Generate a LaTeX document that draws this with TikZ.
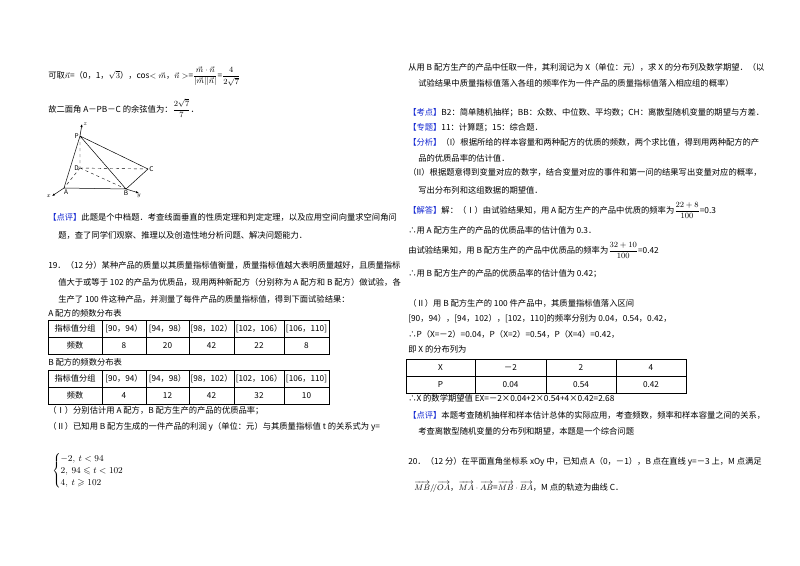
\documentclass[tikz,border=0pt]{standalone}
\usepackage{amsmath,amssymb}
\usepackage{fontspec}
\setmainfont{Noto Sans CJK SC}
\usetikzlibrary{arrows.meta}
\definecolor{lblue}{RGB}{20,40,210}
\tikzset{tx/.style={anchor=base west,inner sep=0pt,font=\fontsize{8.3}{10}\selectfont},
 cell/.style={inner sep=0pt,font=\fontsize{8.2}{10}\selectfont},
 fig/.style={inner sep=1pt,font=\fontsize{6.5}{7}\selectfont},
 dsh/.style={dashed,line width=0.4pt}}
\newcommand{\lb}[1]{\textcolor{lblue}{【#1】}}
\begin{document}
\begin{tikzpicture}[x=1pt,y=-1pt,line width=0.5pt]
\useasboundingbox[fill=white] (0,0) rectangle (800,565);
% left column
\node[tx] (l1) at (48,78) {可取$\vec{n}$=（0，1，$\sqrt3$），cos$<\vec{m}$，$\vec{n}>$=$\dfrac{\vec{m}\cdot\vec{n}}{|\vec{m}||\vec{n}|}$=$\dfrac{4}{2\sqrt7}$};
\node[tx] (l2) at (48,112) {故二面角 A－PB－C 的余弦值为：$\dfrac{2\sqrt7}{7}$．};
% figure
\coordinate (P) at (80,136); \coordinate (D) at (80,168); \coordinate (C) at (148,169);
\coordinate (A) at (64,188); \coordinate (B) at (126,189);
\coordinate (zt) at (82,124); \coordinate (xe) at (52,196); \coordinate (ye) at (139,193);
\draw[-{Latex[length=3pt]}] (P) -- (zt);
\draw (P)--(A) (P)--(B) (P)--(C) (A)--(B) (B)--(C);
\draw[dsh] (P)--(D) (D)--(C) (D)--(A) (D)--(B);
\draw[-{Latex[length=3pt]}] (A) -- (xe);
\draw[-{Latex[length=3pt]}] (B) -- (ye);
\node[fig,anchor=west] (nz) at (zt) {$z$};
\node[fig,anchor=east] (nP) at (P) {P};
\node[fig,anchor=east] (nD) at (D) {D};
\node[fig,anchor=west] (nC) at (C) {C};
\node[fig,anchor=north] (nA) at ([xshift=2]A) {A};
\node[fig,anchor=north] (nB) at (B) {B};
\node[fig,anchor=east] (nx) at (xe) {$x$};
\node[fig,anchor=north] (ny) at (ye) {$y$};
\node[tx] (l3) at (48,220) {\lb{点评}此题是个中档题．考查线面垂直的性质定理和判定定理，以及应用空间向量求空间角问};
\node[tx] (l4) at (58,238) {题，查了同学们观察、推理以及创造性地分析问题、解决问题能力．};
\node[tx] (l5) at (48,268) {19．（12 分）某种产品的质量以其质量指标值衡量，质量指标值越大表明质量越好，且质量指标};
\node[tx] (l6) at (58,285) {值大于或等于 102 的产品为优质品，现用两种新配方（分别称为 A 配方和 B 配方）做试验，各};
\node[tx] (l7) at (58,302) {生产了 100 件这种产品，并测量了每件产品的质量指标值，得到下面试验结果：};
\node[tx] (l8) at (48,316) {A 配方的频数分布表};
\node[tx] (l9) at (48,365) {B 配方的频数分布表};
% tables A and B
\foreach \t/\yt/\va/\vb/\vc/\vd/\ve in {A/320/8/20/42/22/8, B/370/4/12/42/32/10}{
 \draw (48,\yt) rectangle (329,\yt+34);
 \draw (48,\yt+17) -- (329,\yt+17);
 \foreach \xx in {102,146,189,234,284} \draw (\xx,\yt) -- (\xx,\yt+34);
 \node[cell] (\t h0) at (75,\yt+8.5) {指标值分组};
 \node[cell] (\t h1) at (124,\yt+8.5) {[90，94）};
 \node[cell] (\t h2) at (167.5,\yt+8.5) {[94，98）};
 \node[cell] (\t h3) at (211.5,\yt+8.5) {[98，102）};
 \node[cell] (\t h4) at (259,\yt+8.5) {[102，106）};
 \node[cell] (\t h5) at (306.5,\yt+8.5) {[106，110]};
 \node[cell] (\t v0) at (75,\yt+25.5) {频数};
 \node[cell] (\t v1) at (124,\yt+25.5) {\va};
 \node[cell] (\t v2) at (167.5,\yt+25.5) {\vb};
 \node[cell] (\t v3) at (211.5,\yt+25.5) {\vc};
 \node[cell] (\t v4) at (259,\yt+25.5) {\vd};
 \node[cell] (\t v5) at (306.5,\yt+25.5) {\ve};
}
\node[tx] (l10) at (48,413) {（Ⅰ）分别估计用 A 配方，B 配方生产的产品的优质品率；};
\node[tx] (l11) at (48,429) {（Ⅱ）已知用 B 配方生成的一件产品的利润 y（单位：元）与其质量指标值 t 的关系式为 y=};
\node[anchor=west,inner sep=0pt,font=\fontsize{9.5}{11}\selectfont] (pw) at (52,471) {$\begin{cases}-2,\ t<94\\[-1pt] 2,\ 94\leqslant t<102\\[-1pt] 4,\ t\geqslant102\end{cases}$};
% right column
\node[tx] (r1) at (408,70) {从用 B 配方生产的产品中任取一件，其利润记为 X（单位：元），求 X 的分布列及数学期望．（以};
\node[tx] (r2) at (418,86) {试验结果中质量指标值落入各组的频率作为一件产品的质量指标值落入相应组的概率）};
\node[tx] (r3) at (408,115) {\lb{考点}B2：简单随机抽样；BB：众数、中位数、平均数；CH：离散型随机变量的期望与方差．};
\node[tx] (r4) at (408,130) {\lb{专题}11：计算题；15：综合题．};
\node[tx] (r5) at (408,145) {\lb{分析}（I）根据所给的样本容量和两种配方的优质的频数，两个求比值，得到用两种配方的产};
\node[tx] (r6) at (418,161) {品的优质品率的估计值．};
\node[tx] (r7) at (408,175) {（II）根据题意得到变量对应的数字，结合变量对应的事件和第一问的结果写出变量对应的概率，};
\node[tx] (r8) at (418,193) {写出分布列和这组数据的期望值．};
\node[tx] (r9) at (408,213) {\lb{解答}解：（Ⅰ）由试验结果知，用 A 配方生产的产品中优质的频率为$\dfrac{22+8}{100}$=0.3};
\node[tx] (r10) at (408,233) {∴用 A 配方生产的产品的优质品率的估计值为 0.3．};
\node[tx] (r11) at (408,253) {由试验结果知，用 B 配方生产的产品中优质品的频率为$\dfrac{32+10}{100}$=0.42};
\node[tx] (r12) at (408,276) {∴用 B 配方生产的产品的优质品率的估计值为 0.42；};
\node[tx] (r13) at (408,306) {（Ⅱ）用 B 配方生产的 100 件产品中，其质量指标值落入区间};
\node[tx] (r14) at (408,321) {[90，94），[94，102），[102，110]的频率分别为 0.04，0.54，0.42，};
\node[tx] (r15) at (408,337) {∴P（X=－2）=0.04，P（X=2）=0.54，P（X=4）=0.42，};
\node[tx] (r16) at (408,352) {即 X 的分布列为};
\draw (406,359) rectangle (686,393);
\draw (406,376) -- (686,376);
\foreach \xx in {475,546,616} \draw (\xx,359) -- (\xx,393);
\node[cell] (x0) at (440.5,367.5) {X};
\node[cell] (x1) at (510.5,367.5) {－2};
\node[cell] (x2) at (581,367.5) {2};
\node[cell] (x3) at (651,367.5) {4};
\node[cell] (p0) at (440.5,384.5) {P};
\node[cell] (p1) at (510.5,384.5) {0.04};
\node[cell] (p2) at (581,384.5) {0.54};
\node[cell] (p3) at (651,384.5) {0.42};
\node[tx] (r17) at (408,401) {∴X 的数学期望值 EX=－2×0.04+2×0.54+4×0.42=2.68};
\node[tx] (r18) at (408,418) {\lb{点评}本题考查随机抽样和样本估计总体的实际应用，考查频数，频率和样本容量之间的关系，};
\node[tx] (r19) at (418,434) {考查离散型随机变量的分布列和期望，本题是一个综合问题};
\node[tx] (r20) at (408,464) {20．（12 分）在平面直角坐标系 xOy 中，已知点 A（0，－1），B 点在直线 y=－3 上，M 点满足};
\node[tx] (r21) at (414,490) {$\overrightarrow{MB}/\!/\overrightarrow{OA}$，$\overrightarrow{MA}\cdot\overrightarrow{AB}$=$\overrightarrow{MB}\cdot\overrightarrow{BA}$，M 点的轨迹为曲线 C．};
\end{tikzpicture}
\end{document}
